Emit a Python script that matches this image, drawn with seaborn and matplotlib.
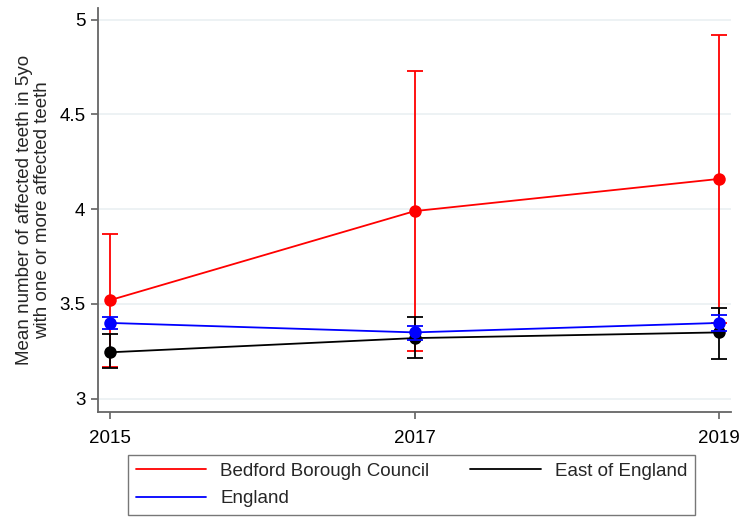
import numpy as np
import pandas as pd
import matplotlib
matplotlib.use("Agg")
import matplotlib.pyplot as plt
import seaborn as sns

years = [2015, 2017, 2019]

bedford_mean = [3.52, 3.99, 4.16]
bedford_lo = [3.17, 3.25, 3.40]
bedford_hi = [3.87, 4.73, 4.92]

england_mean = [3.40, 3.35, 3.40]
england_lo = [3.37, 3.31, 3.36]
england_hi = [3.43, 3.385, 3.44]

east_mean = [3.245, 3.32, 3.35]
east_lo = [3.16, 3.215, 3.21]
east_hi = [3.34, 3.43, 3.48]

areas = ["Bedford Borough Council", "England", "East of England"]
colors = {"Bedford Borough Council": "#ff0000",
          "England": "#0000ff",
          "East of England": "#000000"}
yticks = [3, 3.5, 4, 4.5, 5]
ytick_labels = ["3", "3.5", "4", "4.5", "5"]

series = {
    "Bedford Borough Council": (bedford_mean, bedford_lo, bedford_hi),
    "England": (england_mean, england_lo, england_hi),
    "East of England": (east_mean, east_lo, east_hi),
}

rows = []
for area, (m, lo, hi) in series.items():
    for yr, v, l, h in zip(years, m, lo, hi):
        rows.append({"year": yr, "area": area, "mean": v, "lo": l, "hi": h})
df = pd.DataFrame(rows)

sns.set_theme(style="white")
plt.rcParams["font.family"] = ["Liberation Sans", "DejaVu Sans"]

fig = plt.figure(figsize=(7.41, 5.18), dpi=100)
ax = fig.add_axes([0.132, 0.205, 0.855, 0.780])

zorders = {"Bedford Borough Council": 3, "East of England": 4, "England": 5}
for area in areas:
    sub = df[df["area"] == area]
    z = zorders[area]
    ax.errorbar(sub["year"], sub["mean"],
                yerr=[sub["mean"] - sub["lo"], sub["hi"] - sub["mean"]],
                fmt="none", ecolor=colors[area], elinewidth=1.3,
                capsize=6, capthick=1.3, zorder=z)
    sns.lineplot(data=sub, x="year", y="mean", color=colors[area],
                 marker="o", markersize=9, markeredgewidth=0,
                 linewidth=1.3, ax=ax, legend=False, zorder=z + 0.5)

ax.set_xlim(2014.92, 2019.08)
ax.set_ylim(2.931, 5.063)
ax.set_xticks(years)
ax.set_xticklabels([str(y) for y in years], fontsize=13.5)
ax.set_yticks(yticks)
ax.set_yticklabels(ytick_labels, fontsize=13.5)
ax.set_xlabel("")
ax.set_ylabel("Mean number of affected teeth in 5yo\nwith one or more affected teeth",
              fontsize=13.5, labelpad=6, linespacing=1.05)

ax.grid(axis="y", color="#eaf0f2", linewidth=1.2)
ax.grid(axis="x", visible=False)
for s in ["top", "right"]:
    ax.spines[s].set_visible(False)
for s in ["left", "bottom"]:
    ax.spines[s].set_color("#666666")
    ax.spines[s].set_linewidth(1.3)
ax.tick_params(axis="both", direction="out", length=5, width=1.1,
               color="#555555", labelcolor="black", bottom=True, left=True,
               pad=4)
ax.tick_params(axis="x", pad=8)

line_handles = [plt.Line2D([], [], color=colors[a], linewidth=1.3) for a in areas]
leg = ax.legend(line_handles, areas, ncol=2, loc="upper left",
                bbox_to_anchor=(128 / 741, 1 - 455 / 518),
                bbox_transform=fig.transFigure,
                fontsize=13.5, frameon=True, fancybox=False,
                edgecolor="#555555", handlelength=3.75, handletextpad=0.74,
                columnspacing=2.2, borderpad=0.42, labelspacing=0.55,
                borderaxespad=0)
leg.get_frame().set_linewidth(1.0)

fig.savefig("out.png", dpi=100)
